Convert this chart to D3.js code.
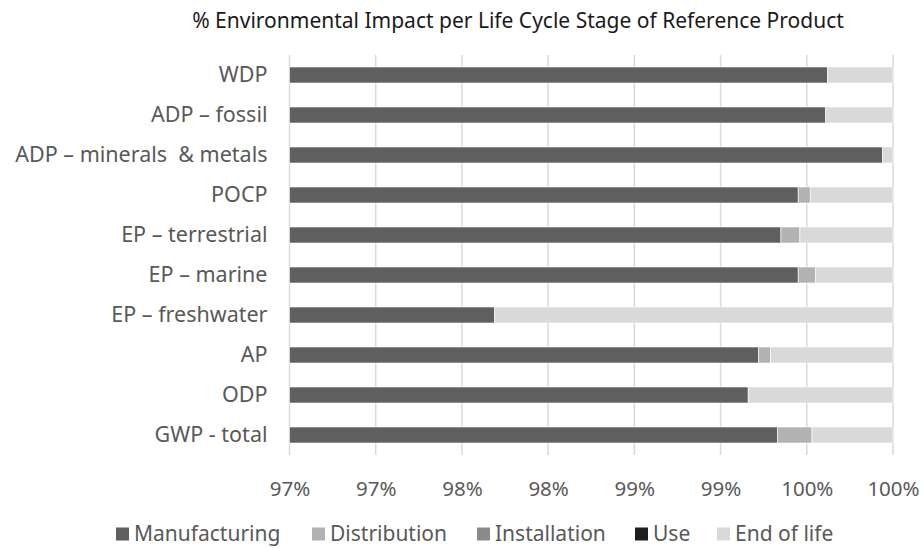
<!DOCTYPE html>
<html>
<head>
<meta charset="utf-8">
<script src="https://cdn.jsdelivr.net/npm/d3@7"></script>
<style>
  body { margin: 0; background: #fff; }
  text { font-family: "Noto Sans", "Open Sans", sans-serif; white-space: pre; }
</style>
</head>
<body>
<div id="chart"></div>
<script>
// Impact categories, top to bottom
const categories = ["WDP", "ADP – fossil", "ADP – minerals  & metals", "POCP", "EP – terrestrial",
    "EP – marine", "EP – freshwater", "AP", "ODP", "GWP - total"];

// Share of each life cycle stage (%)
const manufacturing = [99.62, 99.61, 99.94, 99.45, 99.35, 99.45, 97.69, 99.22, 99.16, 99.33];
const distribution = [0, 0, 0, 0.07, 0.11, 0.10, 0, 0.07, 0, 0.20];
const installation = [0, 0, 0, 0, 0, 0, 0, 0, 0, 0];
const use = [0, 0, 0, 0, 0, 0, 0, 0, 0, 0];
const endOfLife = [0.38, 0.39, 0.06, 0.48, 0.54, 0.45, 2.31, 0.71, 0.84, 0.47];

const stages = ["Manufacturing", "Distribution", "Installation", "Use", "End of life"];
const stageColors = ["#5f5f5f", "#b2b2b2", "#8a8a8a", "#1e1e1e", "#d9d9d9"];

// Axis ticks (Excel shows them rounded to whole percent)
const tickValues = [96.5, 97, 97.5, 98, 98.5, 99, 99.5, 100];

const config = {
    width: 923,
    height: 549,
    margin: { top: 55, right: 30, bottom: 94, left: 289.5 }
};

const rows = categories.map((c, i) => ({
    category: c,
    Manufacturing: manufacturing[i],
    Distribution: distribution[i],
    Installation: installation[i],
    Use: use[i],
    "End of life": endOfLife[i]
}));

const innerWidth = config.width - config.margin.left - config.margin.right;
const innerHeight = config.height - config.margin.top - config.margin.bottom;

const svg = d3.select("#chart")
    .append("svg")
    .attr("width", config.width)
    .attr("height", config.height);

// Title
svg.append("text")
    .attr("x", 518)
    .attr("y", 21)
    .attr("dy", "0.35em")
    .attr("text-anchor", "middle")
    .style("font-size", "21px")
    .style("fill", "#1a1a1a")
    .text("% Environmental Impact per Life Cycle Stage of Reference Product");

const chart = svg.append("g")
    .attr("transform", `translate(${config.margin.left},${config.margin.top})`);

const xScale = d3.scaleLinear()
    .domain([96.5, 100])
    .range([0, innerWidth])
    .clamp(true);

const yScale = d3.scaleBand()
    .domain(categories)
    .range([0, innerHeight])
    .paddingInner(0.6)
    .paddingOuter(0.3);

// Gridlines
chart.selectAll(".grid")
    .data(tickValues)
    .join("line")
    .attr("class", "grid")
    .attr("x1", d => xScale(d))
    .attr("x2", d => xScale(d))
    .attr("y1", 0)
    .attr("y2", innerHeight)
    .style("stroke", "#d9d9d9")
    .style("stroke-width", "1.5px");

// Stacked bars
const stack = d3.stack().keys(stages);
const series = stack(rows);

chart.selectAll(".series")
    .data(series)
    .join("g")
    .attr("class", "series")
    .attr("fill", (d, i) => stageColors[i])
    .selectAll("rect")
    .data(d => d)
    .join("rect")
    .attr("x", d => xScale(d[0]))
    .attr("y", d => yScale(d.data.category))
    .attr("width", d => Math.max(0, xScale(d[1]) - xScale(d[0])))
    .attr("height", yScale.bandwidth())
    .style("stroke", "#fff")
    .style("stroke-width", "0.6px");

// Category labels
const yAxis = chart.append("g")
    .call(d3.axisLeft(yScale).tickSize(0).tickPadding(22));
yAxis.select(".domain").remove();
yAxis.selectAll("text")
    .style("font-size", "21.5px")
    .style("font-family", "'Noto Sans', sans-serif")
    .style("fill", "#595959");

// Value axis labels
const xAxis = chart.append("g")
    .attr("transform", `translate(0,${innerHeight})`)
    .call(d3.axisBottom(xScale)
        .tickValues(tickValues)
        .tickSize(0)
        .tickPadding(26)
        .tickFormat(d => Math.round(d) + "%"));
xAxis.select(".domain").remove();
xAxis.selectAll("text")
    .style("font-size", "20.5px")
    .style("font-family", "'Noto Sans', sans-serif")
    .style("fill", "#595959");

// Legend
const legendX = [116, 312, 477, 635, 717];
const legend = svg.append("g")
    .attr("transform", "translate(0,534)");

const items = legend.selectAll(".legend-item")
    .data(stages)
    .join("g")
    .attr("class", "legend-item")
    .attr("transform", (d, i) => `translate(${legendX[i]},0)`);

items.append("rect")
    .attr("x", 0)
    .attr("y", -6.5)
    .attr("width", 13)
    .attr("height", 13)
    .attr("fill", (d, i) => stageColors[i]);

items.append("text")
    .attr("x", 18)
    .attr("dy", "0.35em")
    .style("font-size", "21px")
    .style("fill", "#595959")
    .text(d => d);
</script>
</body>
</html>
